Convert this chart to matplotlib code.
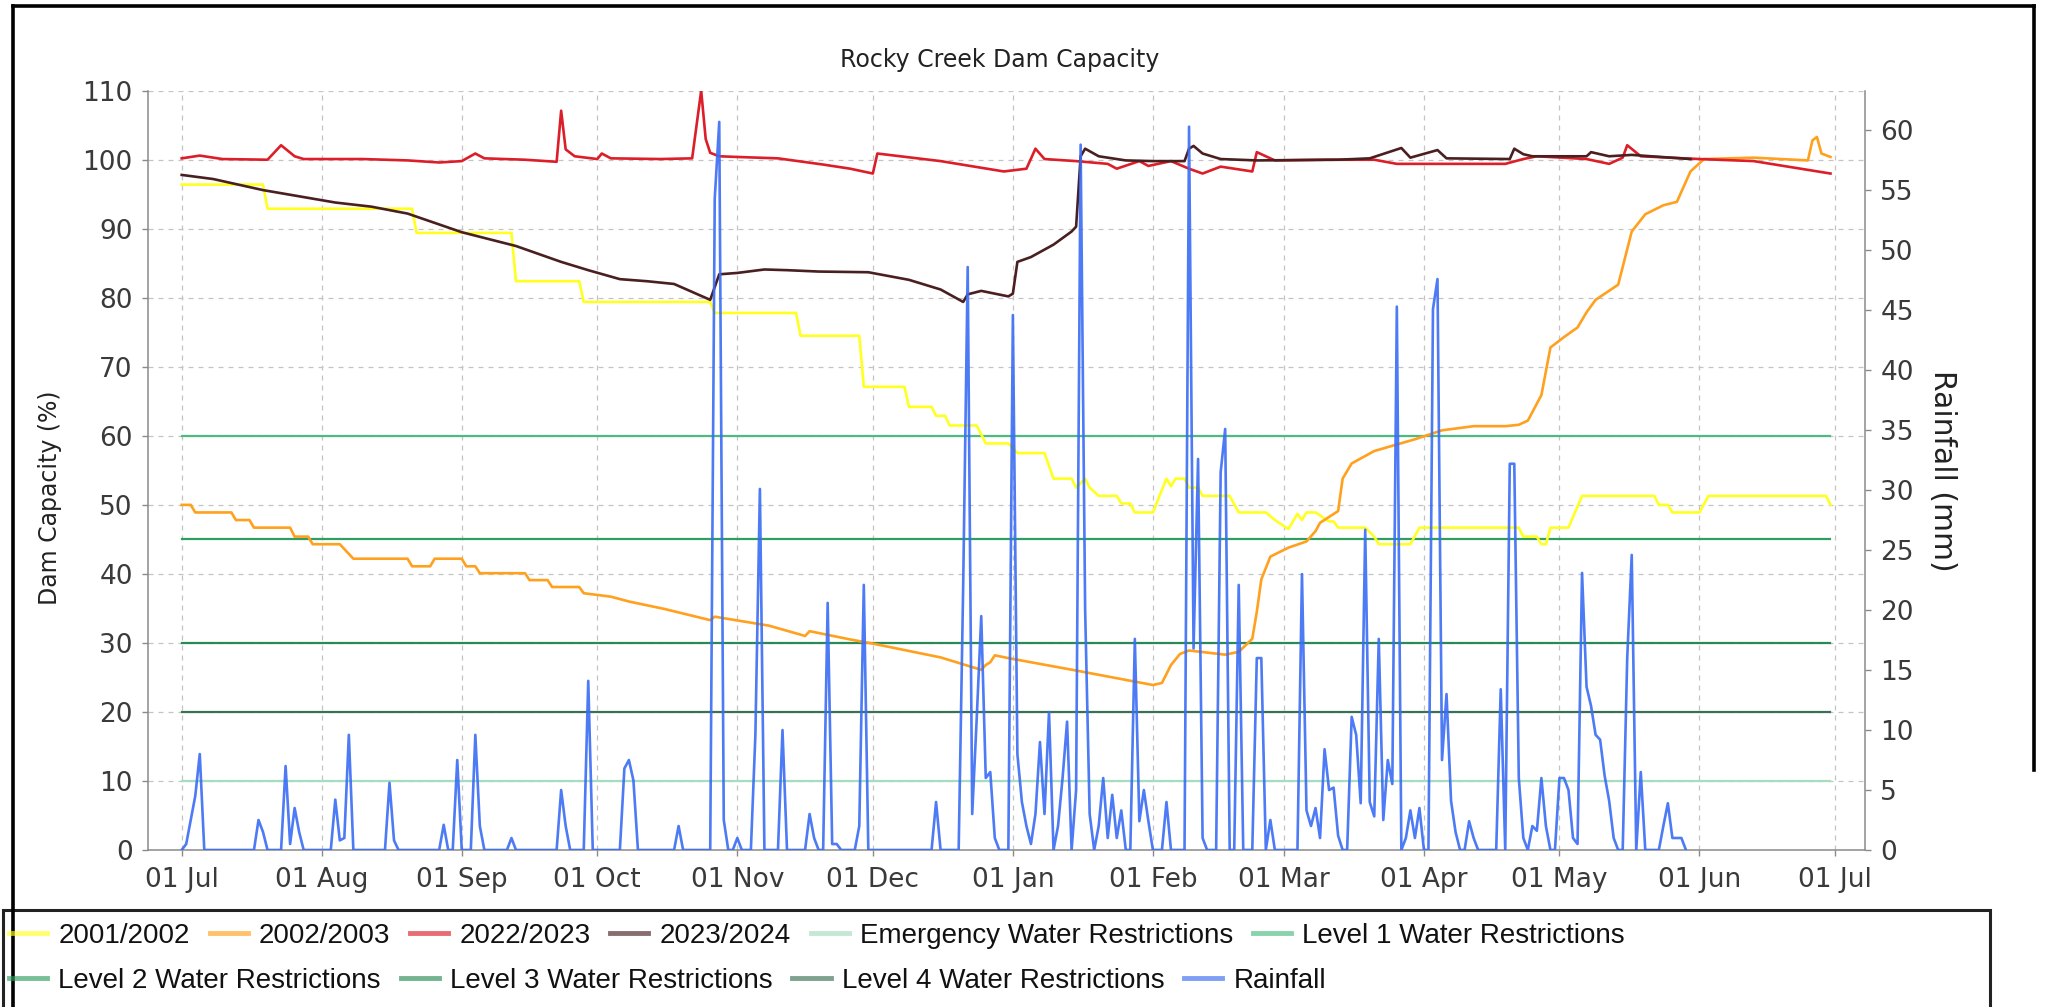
import matplotlib
matplotlib.use("Agg")
import matplotlib.pyplot as plt
import matplotlib.dates as mdates
import pandas as pd
from matplotlib.lines import Line2D
from matplotlib.patches import Rectangle

# ---------------- data (month-day; Jul-Dec -> first year, Jan-Jun -> second) -------------
y0102_dates = ["07-01","07-19","07-20","08-21","08-22","09-12","09-13","09-27","09-28","10-26",
               "10-27","11-14","11-15","11-28","11-29","12-08","12-09","12-14","12-15","12-17",
               "12-18","12-24","12-26","12-31","01-02","01-08","01-10","01-14","01-15","01-17",
               "01-18","01-20","01-24","01-25","01-27","01-28","02-01","02-04","02-05","02-06",
               "02-08","02-09","02-11","02-12","02-18","02-20","02-26","02-28","03-02","03-04",
               "03-05","03-06","03-08","03-11","03-12","03-13","03-19","03-21","03-22","03-29",
               "03-31","04-22","04-23","04-26","04-27","04-28","04-29","05-03","05-06","05-22",
               "05-23","05-25","05-26","06-01","06-03","06-29","06-30"]
y0102_vals = [96.4,96.4,92.9,92.9,89.4,89.4,82.4,82.4,79.4,79.4,
              77.8,77.8,74.5,74.5,67.1,67.1,64.2,64.2,62.9,62.9,
              61.5,61.5,58.9,58.9,57.5,57.5,53.8,53.8,52.5,53.8,
              52.5,51.3,51.3,50.2,50.2,48.9,48.9,53.8,52.7,53.8,
              53.8,52.5,52.5,51.3,51.3,48.9,48.9,47.8,46.5,48.7,
              47.8,48.9,48.9,47.6,47.6,46.7,46.7,45.4,44.3,44.3,
              46.7,46.7,45.4,45.4,44.3,44.3,46.7,46.7,51.3,51.3,
              50.0,50.0,48.9,48.9,51.3,51.3,50.0]

y0203_dates = ["07-01","07-03","07-04","07-12","07-13","07-16","07-17","07-25","07-26","07-29",
               "07-30","08-05","08-08","08-20","08-21","08-25","08-26","09-01","09-02","09-04",
               "09-05","09-15","09-16","09-20","09-21","09-27","09-28","10-04","10-08","10-16",
               "10-26","10-27","11-08","11-15","11-16","11-17","11-26","12-01","12-16","12-25",
               "12-26","12-27","12-28","12-31","01-15","02-01","02-03","02-05","02-07","02-09",
               "02-17","02-20","02-23","02-24","02-25","02-27","03-02","03-06","03-08","03-09",
               "03-13","03-14","03-16","03-21","03-30","04-05","04-12","04-19","04-22","04-24",
               "04-27","04-29","05-02","05-05","05-07","05-09","05-14","05-17","05-20","05-24",
               "05-27","05-30","06-02","06-13","06-25","06-26","06-27","06-28","06-30"]
y0203_vals = [50.0,50.0,48.9,48.9,47.8,47.8,46.7,46.7,45.4,45.4,
              44.3,44.3,42.2,42.2,41.1,41.1,42.2,42.2,41.1,41.1,
              40.1,40.1,39.1,39.1,38.1,38.1,37.2,36.7,36.0,34.9,
              33.3,33.8,32.5,31.2,31.0,31.7,30.5,29.9,27.9,26.1,
              26.8,27.2,28.2,27.8,26.0,23.9,24.2,26.8,28.4,28.9,
              28.3,28.7,30.6,34.5,39.2,42.5,43.8,44.7,46.2,47.4,
              49.1,53.8,56.0,57.8,59.5,60.8,61.4,61.4,61.6,62.2,
              65.9,72.8,74.3,75.7,77.9,79.7,81.9,89.6,92.1,93.4,
              93.9,98.3,100.1,100.3,99.9,102.8,103.3,100.9,100.4]

y2223_dates = ["07-01","07-05","07-10","07-20","07-23","07-26","07-28","08-10","08-20","08-27",
               "09-01","09-04","09-06","09-15","09-22","09-23","09-24","09-26","10-01","10-02",
               "10-04","10-15","10-22","10-24","10-25","10-26","10-28","11-01","11-10","11-20",
               "11-26","12-01","12-02","12-16","12-30","01-04","01-06","01-08","01-15","01-22",
               "01-24","01-29","01-31","02-05","02-09","02-12","02-16","02-23","02-24","02-28",
               "03-10","03-21","03-26","04-05","04-19","04-23","04-26","05-07","05-12","05-15",
               "05-16","05-19","06-01","06-13","06-30"]
y2223_vals = [100.2,100.6,100.1,100.0,102.1,100.5,100.1,100.1,99.9,99.6,
              99.8,100.9,100.2,100.0,99.7,107.1,101.5,100.5,100.1,100.9,
              100.2,100.1,100.2,110.0,103.0,101.0,100.5,100.4,100.2,99.3,
              98.7,98.0,100.9,99.8,98.3,98.7,101.6,100.1,99.8,99.4,
              98.7,99.8,99.1,99.8,98.7,98.0,99.0,98.3,101.1,99.9,
              100.0,100.0,99.4,99.4,99.4,100.1,100.5,100.1,99.4,100.3,
              102.1,100.5,100.1,99.8,98.0]

y2324_dates = ["07-01","07-08","07-19","08-04","08-12","08-20","09-01","09-13","09-23","09-29",
               "10-06","10-12","10-18","10-26","10-28","11-01","11-07","11-12","11-19","11-30",
               "12-09","12-16","12-21","12-22","12-25","12-31","01-01","01-02","01-05","01-10",
               "01-14","01-15","01-16","01-17","01-20","01-26","02-01","02-08","02-09","02-10",
               "02-12","02-16","02-24","03-13","03-20","03-27","03-29","04-04","04-06","04-20",
               "04-21","04-23","04-25","05-07","05-08","05-12","05-17","05-30"]
y2324_vals = [97.8,97.2,95.6,93.8,93.2,92.2,89.5,87.5,85.2,84.0,
              82.7,82.4,82.0,79.7,83.4,83.6,84.1,84.0,83.8,83.7,
              82.6,81.2,79.4,80.5,81.0,80.2,80.6,85.2,85.9,87.7,
              89.6,90.3,100.5,101.6,100.5,99.9,99.8,99.8,101.6,102.0,
              100.9,100.1,99.9,100.0,100.2,101.7,100.3,101.4,100.2,100.1,
              101.6,100.8,100.5,100.5,101.1,100.5,100.7,100.1]

# rainfall (mm) on days with rain; every other day from 01 Jul to 29 May is 0
rain_dates = ["07-02","07-03","07-04","07-05","07-18","07-19","07-24","07-25","07-26","07-27",
              "08-04","08-05","08-06","08-07","08-16","08-17","08-28","08-31","09-04","09-05",
              "09-12","09-23","09-24","09-29","10-07","10-08","10-09","10-19","10-27","10-28",
              "10-29","11-01","11-05","11-06","11-11","11-17","11-18","11-21","11-22","11-23",
              "11-28","11-29","12-15","12-21","12-22","12-23","12-24","12-25","12-26","12-27",
              "12-28","01-01","01-02","01-03","01-04","01-05","01-06","01-07","01-08","01-09",
              "01-11","01-12","01-13","01-15","01-16","01-17","01-18","01-20","01-21","01-22",
              "01-23","01-24","01-25","01-28","01-29","01-30","01-31","02-04","02-09","02-10",
              "02-11","02-12","02-16","02-17","02-20","02-24","02-25","02-27","03-05","03-06",
              "03-07","03-08","03-09","03-10","03-11","03-12","03-13","03-16","03-17","03-18",
              "03-19","03-20","03-21","03-22","03-23","03-24","03-25","03-26","03-28","03-29",
              "03-30","03-31","04-03","04-04","04-05","04-06","04-07","04-08","04-11","04-12",
              "04-18","04-20","04-21","04-22","04-23","04-25","04-26","04-27","04-28","05-01",
              "05-02","05-03","05-04","05-05","05-06","05-07","05-08","05-09","05-10","05-11",
              "05-12","05-13","05-16","05-17","05-19","05-24","05-25","05-26","05-27","05-28"]
rain_vals = [0.5,2.5,4.5,8.0,2.5,1.5,7.0,0.5,3.5,1.5,
             4.2,0.8,1.0,9.6,5.6,0.8,2.1,7.5,9.6,2.0,
             1.0,5.0,2.0,14.1,6.8,7.5,5.8,2.0,54.3,60.7,
             2.5,1.0,9.6,30.1,10.0,3.0,1.0,20.6,0.5,0.5,
             2.0,22.1,4.0,22.0,48.6,3.0,11.0,19.5,6.0,6.5,
             1.0,44.6,8.0,4.0,2.0,0.5,3.0,9.0,3.0,11.5,
             2.0,6.0,10.7,5.0,58.8,20.0,3.0,2.0,6.0,1.0,
             4.6,1.0,3.3,17.6,2.4,5.0,2.4,4.0,60.3,16.8,
             32.6,1.0,31.5,35.1,22.1,16.0,16.0,2.5,23.0,3.3,
             2.0,3.5,1.0,8.4,5.0,5.2,1.2,11.1,9.6,3.9,
             26.7,4.0,2.8,17.6,2.5,7.5,5.5,45.3,1.0,3.3,
             1.0,3.5,45.1,47.6,7.5,13.0,4.1,1.5,2.4,1.0,
             13.4,32.2,32.2,6.0,1.0,2.0,1.6,6.0,2.0,6.0,
             6.0,5.0,1.0,0.5,23.1,13.6,12.0,9.6,9.2,6.2,
             4.1,1.0,16.0,24.6,6.5,2.0,3.9,1.0,1.0,1.0]

restrictions = [("Emergency Water Restrictions", 10, "#a6dcbf"),
                ("Level 1 Water Restrictions", 60, "#4cbb7f"),
                ("Level 2 Water Restrictions", 45, "#2f9e60"),
                ("Level 3 Water Restrictions", 30, "#2a8a55"),
                ("Level 4 Water Restrictions", 20, "#3a7155")]
restriction_span = ["07-01", "06-30"]

x_ticks_fmt = "%d %b"


def D(md):
    m = int(md[:2])
    return pd.Timestamp(f"{2023 if m >= 7 else 2024}-{md}")


# ---------------- figure ----------------
W, H = 2045, 1007
fig = plt.figure(figsize=(W / 100, H / 100), dpi=100)
fig.patch.set_facecolor("white")

def fx(px):
    return px / W

def fy(py):
    return 1 - py / H

ax_l, ax_r, ax_t, ax_b = 148, 1865, 90.7, 850
ax = fig.add_axes([fx(ax_l), fy(ax_b), fx(ax_r) - fx(ax_l), fy(ax_t) - fy(ax_b)])
ax2 = ax.twinx()

c_yel, c_org, c_red, c_brn, c_blue = "#ffff22", "#ffa01e", "#dc1e28", "#4a1f20", "#3a6cf4"

# restriction lines
rs = [D(d) for d in restriction_span]
for name, lvl, col in restrictions:
    ax.plot(rs, [lvl, lvl], color=col, lw=1.6, zorder=2)

ax.plot([D(d) for d in y0102_dates], y0102_vals, color=c_yel, lw=1.9, zorder=3)
ax.plot([D(d) for d in y0203_dates], y0203_vals, color=c_org, lw=1.9, zorder=3)
ax.plot([D(d) for d in y2223_dates], y2223_vals, color=c_red, lw=1.9, zorder=3)
ax.plot([D(d) for d in y2324_dates], y2324_vals, color=c_brn, lw=1.9, zorder=4)

# rainfall daily series
days = pd.date_range(D("07-01"), D("05-29"), freq="D")
rain = pd.Series(0.0, index=days)
for d, v in zip(rain_dates, rain_vals):
    rain[D(d)] = v
ax2.plot(rain.index, rain.values, color=c_blue, lw=1.9, alpha=0.9, zorder=5)

# axes ranges
x0 = D("07-01") - pd.Timedelta(days=7.46)
x1 = pd.Timestamp("2024-07-01") + pd.Timedelta(days=6.64)
ax.set_xlim(x0, x1)
ax.set_ylim(0, 110)
ax2.set_ylim(0, 63.3)

ax.set_yticks(range(0, 111, 10))
ax2.set_yticks(range(0, 61, 5))
ax.xaxis.set_major_locator(mdates.MonthLocator(bymonthday=1))
ax.xaxis.set_major_formatter(mdates.DateFormatter(x_ticks_fmt))

grid_kw = dict(color="#c4c4c4", lw=0.9, ls=(0, (4, 4)))
ax.grid(True, which="major", axis="both", **grid_kw)
ax.set_axisbelow(True)

for a in (ax, ax2):
    a.set_facecolor("none")
    a.spines["top"].set_visible(False)
    for s in ("left", "right", "bottom"):
        a.spines[s].set_color("#8a8a8a")
        a.spines[s].set_linewidth(1.1)
ax.spines["right"].set_visible(False)
ax2.spines["left"].set_visible(False)
ax2.spines["bottom"].set_visible(False)

tick_kw = dict(direction="out", length=4, width=1, color="#8a8a8a",
               labelsize=19, labelcolor="#3a3a3a")
ax.tick_params(axis="y", pad=7, **tick_kw)
ax.tick_params(axis="x", pad=8, **tick_kw)
ax2.tick_params(axis="y", pad=7, **tick_kw)

# titles / labels
fig.text(fx(1000), fy(60), "Rocky Creek Dam Capacity", ha="center", va="center",
         fontsize=17, color="#222222")
fig.text(fx(50), fy(498), "Dam Capacity (%)", ha="center", va="center", rotation=90,
         fontsize=17, color="#222222")
fig.text(fx(1943), fy(471), "Rainfall (mm)", ha="center", va="center", rotation=270,
         fontsize=21.5, color="#222222")

# legend (flow layout, two rows)
leg_font = {"family": ["Liberation Sans", "DejaVu Sans"], "size": 20}
row1 = [("2001/2002", c_yel), ("2002/2003", c_org), ("2022/2023", c_red), ("2023/2024", c_brn),
        (restrictions[0][0], restrictions[0][2]), (restrictions[1][0], restrictions[1][2])]
row2 = [(restrictions[2][0], restrictions[2][2]), (restrictions[3][0], restrictions[3][2]),
        (restrictions[4][0], restrictions[4][2]), ("Rainfall", c_blue)]
for row, ypx in ((row1, 936), (row2, 981)):
    hs = [Line2D([], [], color=c, lw=3.5, alpha=0.65) for _, c in row]
    lg = fig.legend(hs, [n for n, _ in row], loc="center left", bbox_to_anchor=(fx(9), fy(ypx)),
                    ncol=len(row), frameon=False, prop=leg_font, handlelength=1.37,
                    handletextpad=0.4, columnspacing=0.72, borderpad=0, borderaxespad=0)
    for t in lg.get_texts():
        t.set_color("#111111")

# legend box and outer border
fig.add_artist(Rectangle((fx(3), fy(1030)), fx(1990) - fx(3), fy(910) - fy(1030),
                         transform=fig.transFigure, fill=False, edgecolor="#222222", lw=2.2))
border_kw = dict(transform=fig.transFigure, color="black", lw=2.6)
fig.add_artist(Line2D([fx(13), fx(2034)], [fy(6), fy(6)], **border_kw))
fig.add_artist(Line2D([fx(13), fx(13)], [fy(6), fy(1010)], **border_kw))
fig.add_artist(Line2D([fx(2034), fx(2034)], [fy(6), fy(770)], **border_kw))

fig.savefig("out.png", dpi=100, facecolor="white")
